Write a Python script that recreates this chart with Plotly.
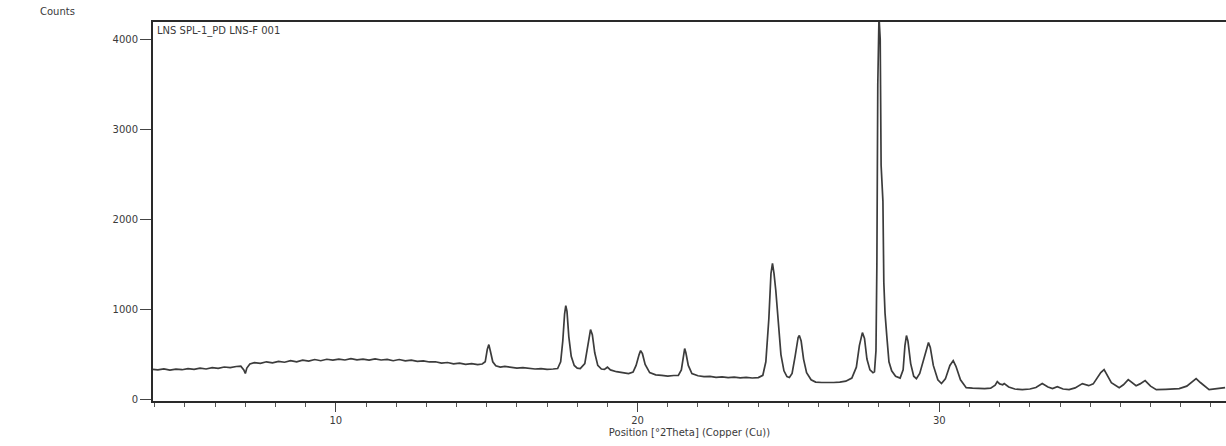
import plotly.graph_objects as go

# Position [°2Theta] and Counts
two_theta = [
    3.94, 4.1, 4.3, 4.5, 4.7, 4.9, 5.1, 5.3, 5.5, 5.7, 5.9, 6.1, 6.3, 6.5, 6.7, 6.85, 6.95, 7.0, 7.05, 7.15,
    7.3, 7.5, 7.7, 7.9, 8.1, 8.3, 8.5, 8.7, 8.9, 9.1, 9.3, 9.5, 9.7, 9.9, 10.1, 10.3, 10.5, 10.7, 10.9, 11.1,
    11.3, 11.5, 11.7, 11.9, 12.1, 12.3, 12.5, 12.7, 12.9, 13.1, 13.3, 13.5, 13.7, 13.9, 14.1, 14.3, 14.5, 14.7,
    14.85, 14.95, 15.02, 15.07, 15.12, 15.2, 15.3, 15.45, 15.6, 15.8, 16.0, 16.2, 16.4, 16.6, 16.8, 17.0, 17.2,
    17.35, 17.45, 17.52, 17.58, 17.62, 17.66, 17.72, 17.8, 17.9, 18.0, 18.1, 18.25, 18.35, 18.44, 18.5, 18.58,
    18.68, 18.8, 18.9, 19.0, 19.1, 19.3, 19.5, 19.7, 19.85, 19.95, 20.05, 20.1, 20.16, 20.25, 20.4, 20.6, 20.8,
    21.0, 21.2, 21.35, 21.45, 21.52, 21.56, 21.6, 21.68, 21.8, 22.0, 22.2, 22.4, 22.6, 22.8, 23.0, 23.2, 23.4,
    23.6, 23.8, 24.0, 24.15, 24.25, 24.35, 24.42, 24.47, 24.52, 24.58, 24.65, 24.75, 24.85, 24.95, 25.03, 25.12,
    25.22, 25.32, 25.36, 25.42, 25.5, 25.6, 25.75, 25.9, 26.1, 26.3, 26.5, 26.7, 26.9, 27.1, 27.25, 27.35, 27.45,
    27.52, 27.6, 27.7, 27.8, 27.85, 27.9, 27.93, 27.96, 28.0, 28.04, 28.07, 28.1, 28.13, 28.16, 28.2, 28.26,
    28.33, 28.42, 28.55, 28.7, 28.8, 28.86, 28.91, 28.96, 29.05, 29.15, 29.24, 29.35, 29.5, 29.64, 29.7, 29.8,
    29.95, 30.07, 30.2, 30.35, 30.46, 30.55, 30.7, 30.89, 31.1, 31.3, 31.5, 31.7, 31.85, 31.92, 32.0, 32.1,
    32.15, 32.3, 32.5, 32.75, 33.0, 33.2, 33.41, 33.6, 33.75, 33.91, 34.1, 34.3, 34.5, 34.74, 34.95, 35.1, 35.2,
    35.35, 35.46, 35.55, 35.7, 35.96, 36.1, 36.26, 36.4, 36.52, 36.65, 36.82, 37.0, 37.19, 37.5, 37.8, 37.95,
    38.2, 38.4, 38.51, 38.65, 38.94, 39.2, 39.47,
]
counts = [
    335, 330, 342, 328, 338, 332, 345, 336, 350, 340, 355, 348, 362, 355, 368, 372, 330, 290, 350, 395,
    410, 402, 420, 408, 425, 415, 432, 420, 438, 428, 445, 432, 448, 438, 450, 440, 455, 442, 450, 438,
    452, 440, 446, 432, 445, 430, 438, 425, 430, 418, 420, 405, 412, 398, 405, 392, 400, 388,
    395, 420, 560, 611, 540, 420, 375, 362, 370, 358, 350, 356, 345, 340, 345, 335, 340,
    345, 420, 650, 950, 1044, 980, 700, 480, 380, 350, 345, 400, 620, 778, 720, 520,
    380, 340, 335, 360, 330, 310, 300, 290, 305, 380, 500, 544, 510, 390, 300, 275, 270,
    262, 268, 270, 330, 500, 567, 520, 380, 290, 265, 255, 258, 248, 252, 245, 250, 242,
    248, 240, 245, 270, 420, 900, 1400, 1511, 1400, 1211, 900, 500, 320, 255, 245, 290,
    480, 690, 711, 650, 450, 300, 220, 195, 190, 188, 190, 195, 205, 240, 360, 600, 744,
    680, 450, 330, 300, 310, 544, 1500, 3500, 4250, 4000, 2600, 2350, 2200, 1300, 960, 700,
    420, 320, 260, 240, 330, 600, 711, 650, 400, 260, 233, 290, 480, 633, 580, 380,
    220, 178, 230, 380, 433, 370, 220, 133, 128, 125, 122, 128, 160, 200, 175, 165,
    178, 140, 118, 111, 118, 135, 178, 140, 122, 144, 118, 111, 130, 178, 155, 175, 222,
    300, 333, 280, 189, 133, 165, 222, 190, 155, 175, 211, 150, 111, 115, 118, 122,
    150, 210, 233, 190, 111, 122, 133,
]
x_ticks = [10, 20, 30]
y_ticks = [0, 1000, 2000, 3000, 4000]
sample_label = "LNS SPL-1_PD LNS-F 001"

FONT = "DejaVu Sans"
INK = "#3a3a3a"

fig = go.Figure()
fig.add_trace(go.Scatter(
    x=two_theta, y=counts, mode="lines", name=sample_label,
    line=dict(color="#3c3c3c", width=1.7), showlegend=False,
))

fig.update_layout(
    width=1226, height=446,
    margin=dict(l=153, r=0, t=22, b=45),
    paper_bgcolor="white", plot_bgcolor="white",
    font=dict(family=FONT, size=10, color=INK),
    xaxis=dict(
        range=[3.94, 39.5], tickvals=x_ticks, ticktext=[str(v) for v in x_ticks],
        ticks="outside", ticklen=9, tickwidth=1.2, tickcolor="#444",
        minor=dict(dtick=1, tick0=0, ticks="outside", ticklen=4, tickcolor="#555", tickwidth=1),
        showline=True, linecolor="#2a2a2a", linewidth=2, mirror=True,
        showgrid=False, zeroline=False,
        tickfont=dict(family=FONT, size=10, color=INK),
        title=dict(text="Position [°2Theta] (Copper (Cu))", font=dict(family=FONT, size=10, color=INK), standoff=4),
    ),
    yaxis=dict(
        range=[-15, 4190], tickvals=y_ticks, ticktext=[str(v) for v in y_ticks],
        ticks="outside", ticklen=11, tickwidth=1.2, tickcolor="#444",
        showline=True, linecolor="#2a2a2a", linewidth=2,
        showgrid=False, zeroline=False,
        tickfont=dict(family=FONT, size=10, color=INK),
    ),
)

fig.add_annotation(
    text="Counts", xref="paper", yref="paper", x=-0.107, y=1.008,
    xanchor="left", yanchor="bottom", showarrow=False,
    font=dict(family=FONT, size=10, color=INK),
)
fig.add_annotation(
    text=sample_label, xref="paper", yref="paper", x=0.002, y=0.998,
    xanchor="left", yanchor="top", showarrow=False,
    font=dict(family=FONT, size=10, color=INK),
)

fig.write_html(
    "out.html",
    config={"displayModeBar": False},
    post_script="document.body.style.margin='0';",
)
